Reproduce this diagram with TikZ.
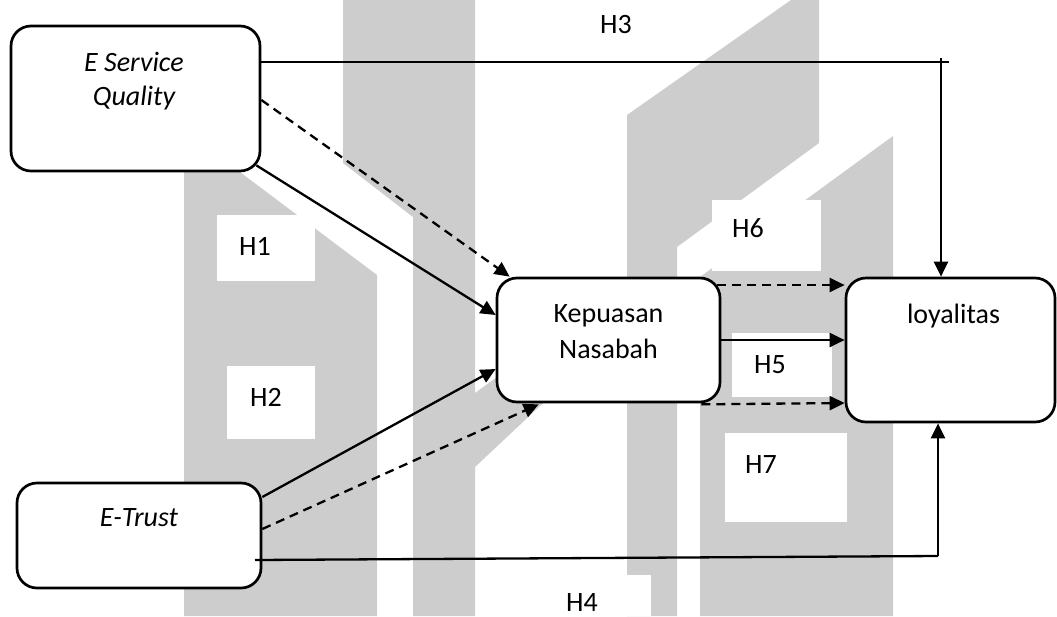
\documentclass[tikz,border=0pt]{standalone}
\usepackage{fontspec}
\setmainfont{Carlito}
\usetikzlibrary{arrows.meta,calc}
\definecolor{wmgray}{RGB}{205,205,205}
\begin{document}
\begin{tikzpicture}[x=1pt,y=-1pt,
  box/.style={draw,line width=2.7pt,rounded corners=20pt,fill=white,inner sep=0pt},
  lbl/.style={font=\fontsize{28}{35}\selectfont,anchor=base,inner sep=0pt,align=center},
  conn/.style={line width=2.3pt},
  arr/.style={conn,-{Triangle[length=15pt,width=14pt]}},
  dsh/.style={arr,dash pattern=on 9pt off 6pt},
  wmark/.style={fill=wmgray},
  hbox/.style={fill=white}
]
\useasboundingbox (0,0) rectangle (1057,616);
% watermark shapes
\fill[wmark] (184,130) -- (377,275) -- (377,616) -- (184,616) -- cycle;
\fill[wmark] (343,0) -- (475,0) -- (475,616) -- (413,616) -- (413,217) -- (343,163) -- cycle;
\fill[wmark] (627,115) -- (791,0) -- (819,0) -- (819,143) -- (677,247) -- (677,616) -- (627,616)
  -- (627,390) -- (557,390) -- (475,467) -- (475,393) -- (627,282) -- cycle;
\fill[wmark] (700,277) -- (893,136) -- (893,616) -- (700,616) -- cycle;
% white label patches
\fill[hbox] (217,215) rectangle (315,281);
\fill[hbox] (227,366) rectangle (315,439);
\fill[hbox] (712,200) rectangle (821,271);
\fill[hbox] (732,333) rectangle (832,397);
\fill[hbox] (725,433) rectangle (847,522);
\fill[hbox] (540,575) rectangle (651,616);
% boxes
\node[box,minimum width=249pt,minimum height=145pt] (esq) at (135.5,98.5) {};
\node[box,minimum width=244pt,minimum height=105pt] (et) at (139,535.5) {};
\node[box,minimum width=223pt,minimum height=124pt] (kn) at (608.5,340) {};
\node[box,minimum width=209pt,minimum height=144pt] (ly) at (950.5,350) {};
% box texts (base anchor = baseline of last line)
\node[lbl,font=\fontsize{28}{34}\selectfont] (tesq) at (134,105) {\itshape E Service\\\itshape Quality};
\node[lbl] (tet) at (139,526) {\itshape E-Trust};
\node[lbl,font=\fontsize{28}{36}\selectfont] (tkn) at (608.5,358) {Kepuasan\\Nasabah};
\node[lbl] (tly) at (953.5,323) {loyalitas};
% hypothesis labels
\node[lbl] (h3) at (616,33) {H3};
\node[lbl] (h1) at (255,255) {H1};
\node[lbl] (h2) at (266,406) {H2};
\node[lbl] (h6) at (748,237) {H6};
\node[lbl] (h5) at (770,373) {H5};
\node[lbl] (h7) at (761,473) {H7};
\node[lbl] (h4) at (582,611) {H4};
% connectors
\coordinate (h3e) at (949,62);
\coordinate (h3t) at (941,58);
\draw[conn] (esq.east |- h3e) -- (h3e);
\draw[arr] (h3t) -- (h3t |- ly.north);
\coordinate (h4s) at (255,560);
\coordinate (h4e) at (938,556);
\draw[conn] (h4s) -- (h4e);
\draw[arr] (h4e) -- (h4e |- ly.south);
\draw[arr] ($(esq.south east)+(-5,-7)$) -- (kn.west |- 0,315);
\draw[dsh] (esq.east |- 0,100) -- ($(kn.north west)+(14,0)$);
\draw[arr] (et.east |- 0,497) -- (kn.west |- 0,369);
\draw[dsh] (et.east |- 0,529) -- ($(kn.south west)+(43,1)$);
\draw[dsh] ($(kn.east |- 0,285)+(-4,0)$) -- (ly.west |- 0,285);
\draw[arr] (kn.east |- 0,340) -- (ly.west |- 0,340);
\draw[dsh] ($(kn.south east)+(-20,1)$) -- (ly.west |- 0,403);
\end{tikzpicture}
\end{document}
